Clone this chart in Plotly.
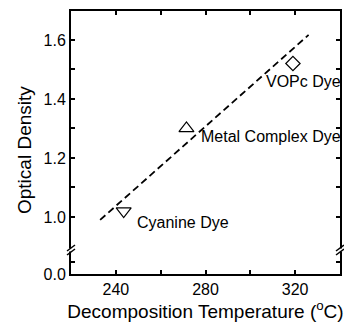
import plotly.graph_objects as go

# Data
dye_names = ["Cyanine Dye", "Metal Complex Dye", "VOPc Dye"]
decomp_temp = [243.5, 271.5, 319.0]
optical_density = [1.02, 1.30, 1.52]
symbols = ["triangle-down-open", "triangle-up-open", "diamond-open"]
marker_sizes = [13, 13, 11]

fit_x = [233.0, 326.0]
fit_y = [0.99, 1.617]

label_x = [248.4, 277.3, 306.2]
label_y = [0.98, 1.271, 1.458]

x_ticks = [240, 280, 320]
y_ticks = [1.0, 1.2, 1.4, 1.6]

W, H = 344, 326
ml, mr, mt, mb = 71, 2, 11, 52
plot_h = H - mt - mb
break_px = 24
f = break_px / plot_h

FONT = "Liberation Sans, Arial, sans-serif"

fig = go.Figure()

# dashed fit line (upper panel)
fig.add_trace(go.Scatter(x=fit_x, y=fit_y, mode="lines", xaxis="x2", yaxis="y2",
                         line=dict(color="black", width=1.8, dash="7px,4px"),
                         showlegend=False, hoverinfo="skip"))
for xv, yv, s, ms in zip(decomp_temp, optical_density, symbols, marker_sizes):
    fig.add_trace(go.Scatter(x=[xv], y=[yv], mode="markers", xaxis="x2", yaxis="y2",
                             marker=dict(symbol=s, size=ms,
                                         color="black", line=dict(width=1.2, color="black")),
                             showlegend=False))
# empty trace for lower panel
fig.add_trace(go.Scatter(x=[None], y=[None], xaxis="x", yaxis="y", showlegend=False))

for name, xv, yv in zip(dye_names, label_x, label_y):
    fig.add_annotation(x=xv, y=yv, xref="x2", yref="y2", text=name, showarrow=False,
                       xanchor="left", yanchor="middle",
                       font=dict(family=FONT, size=16, color="black"))

# y axis title (centred as in the reference)
fig.add_annotation(text="Optical Density", xref="paper", yref="paper",
                   x=0, y=(H - mb - 150) / plot_h, xshift=-47, showarrow=False,
                   textangle=-90, xanchor="center", yanchor="middle",
                   font=dict(family=FONT, size=19, color="black"))

axis_common = dict(showline=True, linecolor="black", linewidth=2, ticks="inside",
                   ticklen=4, tickwidth=1.5, tickcolor="black", showgrid=False,
                   zeroline=False,
                   tickfont=dict(family=FONT, size=16, color="black"))

fig.update_layout(
    width=W, height=H, margin=dict(l=ml, r=mr, t=mt, b=mb),
    paper_bgcolor="white", plot_bgcolor="white",
    xaxis=dict(range=[220, 340], domain=[0, 1], anchor="y", tickvals=x_ticks,
               minor=dict(tickvals=[260, 300], ticks="inside", ticklen=4, tickwidth=1.5, tickcolor="black"),
               title=dict(text="Decomposition Temperature (<sup>o</sup>C)",
                          font=dict(family=FONT, size=19, color="black"), standoff=2),
               **axis_common),
    xaxis2=dict(range=[220, 340], domain=[0, 1], anchor="y2", side="top",
                tickvals=[240, 260, 280, 300, 320], showticklabels=False,
                **axis_common),
    yaxis=dict(range=[0, 0.2], domain=[0, f], anchor="x", tickvals=[0.0], ticktext=["0.0"],
               minor=dict(tickvals=[0.1], ticks="inside", ticklen=4, tickwidth=1.5, tickcolor="black"),
               mirror="ticks", **axis_common),
    yaxis2=dict(range=[0.888, 1.698], domain=[f, 1], anchor="x2", tickvals=y_ticks,
                tickformat=".1f",
                minor=dict(tickvals=[1.1, 1.3, 1.5], ticks="inside", ticklen=4, tickwidth=1.5, tickcolor="black"),
                mirror="ticks",
                **axis_common),
)

# axis break marks
for xa in [0, 1]:
    fig.add_shape(type="line", xref="paper", yref="paper", xsizemode="pixel", ysizemode="pixel",
                  xanchor=xa, yanchor=f, x0=0, x1=0, y0=-1.5, y1=1.5,
                  line=dict(color="white", width=4))
    for off in [-2, 2]:
        fig.add_shape(type="line", xref="paper", yref="paper", xsizemode="pixel", ysizemode="pixel",
                      xanchor=xa, yanchor=f, x0=-4, x1=4, y0=off - 3, y1=off + 3,
                      line=dict(color="black", width=1.5))

fig.write_html("out.html")
